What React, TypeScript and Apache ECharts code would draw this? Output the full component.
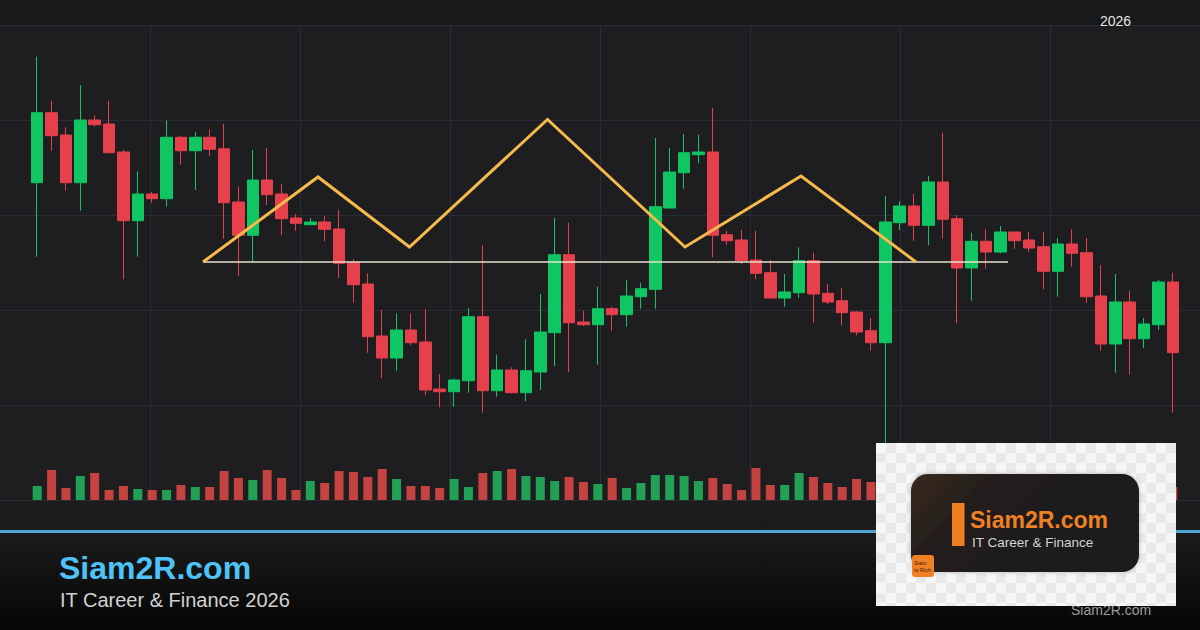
import React, { useEffect, useRef } from "react";
import * as echarts from "echarts";

// ---- data (price scale 0..475, volume scale 0..32) ----
const categories = Array.from({ length: 80 }, (_, i) => `D${i + 1}`);

const opens = [
  317.3, 387.3, 365, 317.3, 380, 376, 348, 279.3, 306, 301.3,
  362.7, 349.3, 362.7, 351.3, 298, 264.7, 320, 306, 282, 275.3,
  278, 271, 237.3, 216, 164, 142, 170, 158, 111, 108.3,
  119.3, 183.3, 109.3, 130, 107.3, 128, 167.3, 245.3, 178, 175.3,
  191.3, 185.3, 203.3, 210.7, 292, 327.3, 345.3, 348, 265.3, 260,
  240, 227.3, 202, 207.3, 239.3, 206.7, 199.3, 188, 169.3, 157.3,
  277.3, 294, 274.7, 318, 281.3, 232, 258.7, 248, 268, 260,
  253.3, 228.7, 256, 247.3, 204, 156, 198, 161.3, 175.3, 218,
];
const closes = [
  387.3, 364.3, 317.3, 380, 375.3, 347.3, 279.3, 306, 301.3, 362.7,
  349.3, 362.7, 350.7, 297.3, 264.7, 320, 305.3, 281.3, 276.7, 278,
  270.7, 236.7, 215.3, 163.3, 142, 170, 157.3, 110, 108.3, 120,
  183.3, 109.3, 130, 107.3, 129.3, 168, 245.3, 177.3, 175.3, 191.3,
  185.3, 204, 211.3, 293.3, 328, 347.3, 348, 264.7, 259.3, 239.3,
  226.7, 202, 208, 239.3, 206, 198, 187.3, 168, 157.3, 278,
  294, 274.7, 318, 280.7, 232, 258.7, 248, 268, 259.3, 252,
  228.7, 256, 246.7, 203.3, 156, 198, 161.3, 176, 218, 147.3,
];
const lows = [
  243.3, 349.3, 309.3, 289.3, 373.3, 347.3, 220.7, 243.3, 297.3, 293.3,
  335.3, 310, 344, 261.3, 224, 238, 295, 264.7, 269.3, 275.3,
  258.7, 222, 197.3, 147.3, 122, 129.3, 154.7, 104.7, 92.7, 93.3,
  107.3, 87.3, 103.3, 106.7, 98.7, 110, 134, 128, 174, 135.3,
  169.3, 173.3, 191.3, 191.3, 291.3, 311.3, 336.7, 242.7, 255.3, 236,
  220.7, 201.3, 193.3, 202, 177.3, 196, 174.7, 164.7, 149.3, 45,
  270, 259.3, 254.7, 261.3, 176.7, 199.3, 231.3, 246.7, 251.3, 248,
  210.7, 203.3, 233.3, 197.3, 149.3, 127.3, 125.3, 152, 170, 87.3,
];
const highs = [
  443.3, 399.3, 372.7, 415, 384.7, 399.3, 350, 328.7, 308, 379.3,
  364, 368, 370.7, 376, 313.3, 350, 352, 316, 286, 282,
  284, 290, 240.7, 226.7, 190, 186.7, 186.7, 190.7, 126, 121.3,
  192, 254.7, 145.3, 132.7, 160.7, 206, 282, 277.3, 189.3, 213.3,
  193.3, 220, 217.3, 362, 352, 366, 365.3, 392, 269.3, 270,
  269.3, 240, 226, 252.7, 247.3, 216, 212, 188.7, 182, 304,
  298.7, 306, 324, 367.3, 284.7, 267.3, 270.7, 274, 268, 268,
  268, 262, 270.7, 262, 234.7, 226, 209.3, 182, 220, 227.3,
];
const volumes = [
  14, 30, 12, 24, 27, 10, 14, 11, 10, 10,
  15, 13, 13, 29, 22, 20, 30, 22, 10, 19,
  17, 29, 28, 23, 31, 21, 14, 14, 12, 21,
  13, 27, 29, 31, 24, 23, 19, 23, 18, 16,
  22, 12, 17, 25, 25, 24, 19, 22, 16, 10,
  32, 15, 15, 27, 23, 17, 13, 21, 18, 30,
  16, 14, 20, 26, 22, 15, 12, 14, 10, 11,
  18, 16, 12, 21, 24, 19, 22, 12, 17, 13,
];

// head-and-shoulders style pattern drawn on the full-width overlay scale (0..1200)
const patternX = [203, 318, 409.5, 547.5, 685, 801, 916];
const patternY = [238, 323, 253, 380.5, 253, 324, 238];
const necklineX = [203, 1008];
const necklineY = [238, 238];

const UP = "#0fc662";
const DOWN = "#e5404b";
const UP_VOL = "#21a056";
const DOWN_VOL = "#c4423f";

export default function App() {
  const ref = useRef<HTMLDivElement>(null);

  useEffect(() => {
    document.body.style.margin = "0";
    const chart = echarts.init(ref.current!, null, { renderer: "svg" });

    const candleData = categories.map((_, i) => [opens[i], closes[i], lows[i], highs[i]]);
    const volData = volumes.map((v, i) => ({
      value: v,
      itemStyle: { color: closes[i] >= opens[i] ? UP_VOL : DOWN_VOL },
    }));

    // decorative checker for the logo card
    const checker: any[] = [];
    const cx0 = 876, cy0 = 443, cw = 300, ch = 163, cell = 10;
    for (let r = 0; r * cell < ch; r++) {
      for (let c = 0; c * cell < cw; c++) {
        if ((r + c) % 2 === 0) continue;
        checker.push({
          type: "rect",
          shape: { x: cx0 + c * cell, y: cy0 + r * cell, width: Math.min(cell, cw - c * cell), height: Math.min(cell, ch - r * cell) },
          style: { fill: "#e9e9e9" },
          z: 101,
          silent: true,
        });
      }
    }

    const hiddenAxis = { show: false };

    chart.setOption({
      animation: false,
      backgroundColor: "#1e1e20",
      grid: [
        { left: 0, top: 25, width: 1200, height: 475 },
        { left: 30, top: 25, width: 1150, height: 475 },
        { left: 30, top: 468, width: 1150, height: 32 },
      ],
      xAxis: [
        {
          type: "value", gridIndex: 0, min: 0, max: 1200, interval: 150,
          axisLine: { show: false }, axisTick: { show: false }, axisLabel: { show: false },
          splitLine: { show: true, showMinLine: false, showMaxLine: false, lineStyle: { color: "#2a2d37", width: 1 } },
        },
        { type: "category", gridIndex: 1, data: categories, ...hiddenAxis },
        { type: "category", gridIndex: 2, data: categories, ...hiddenAxis },
      ],
      yAxis: [
        {
          type: "value", gridIndex: 0, min: 0, max: 475, interval: 95,
          axisLine: { show: false }, axisTick: { show: false }, axisLabel: { show: false },
          splitLine: { show: true, lineStyle: { color: "#2a2d37", width: 1 } },
        },
        { type: "value", gridIndex: 1, min: 0, max: 475, ...hiddenAxis },
        { type: "value", gridIndex: 2, min: 0, max: 32, ...hiddenAxis },
      ],
      series: [
        {
          type: "bar",
          xAxisIndex: 2,
          yAxisIndex: 2,
          data: volData,
          barWidth: 9,
          z: 2,
        },
        {
          type: "candlestick",
          xAxisIndex: 1,
          yAxisIndex: 1,
          data: candleData,
          barWidth: 12,
          itemStyle: {
            color: UP,
            color0: DOWN,
            borderColor: UP,
            borderColor0: DOWN,
            borderWidth: 1,
          },
          z: 3,
        },
        {
          type: "line",
          xAxisIndex: 0,
          yAxisIndex: 0,
          data: necklineX.map((x, i) => [x, necklineY[i]]),
          symbol: "none",
          lineStyle: { color: "#e8e1cd", width: 1.5 },
          z: 4,
        },
        {
          type: "line",
          xAxisIndex: 0,
          yAxisIndex: 0,
          data: patternX.map((x, i) => [x, patternY[i]]),
          symbol: "none",
          lineStyle: { color: "#f6b94c", width: 3, join: "miter" },
          z: 5,
        },
      ],
      graphic: {
        elements: [
          { type: "rect", shape: { x: 0, y: 0, width: 1200, height: 25 }, style: { fill: "#18191b" }, z: -10, silent: true },
          {
            type: "rect", shape: { x: 0, y: 500, width: 1200, height: 130 },
            style: {
              fill: new echarts.graphic.LinearGradient(0, 0, 0, 1, [
                { offset: 0, color: "#1c1c1c" },
                { offset: 0.25, color: "#1b1b1b" },
                { offset: 1, color: "#060606" },
              ]),
            },
            z: -10, silent: true,
          },
          { type: "rect", shape: { x: 0, y: 530, width: 1200, height: 3 }, style: { fill: "#4aa5d1" }, z: 10, silent: true },
          {
            type: "text", x: 1100, y: 20.5,
            style: { text: "2026", fill: "#e6e6e6", font: "14px 'Liberation Sans', Arial, sans-serif", verticalAlign: "middle", align: "left" },
            z: 10,
          },
          {
            type: "text", x: 59, y: 568,
            style: { text: "Siam2R.com", fill: "#4fc3f7", font: "bold 32px 'Liberation Sans', Arial, sans-serif", verticalAlign: "middle", align: "left" },
            z: 10,
          },
          {
            type: "text", x: 60, y: 599.5,
            style: { text: "IT Career & Finance 2026", fill: "#d2d2d2", font: "20px 'Liberation Sans', Arial, sans-serif", verticalAlign: "middle", align: "left" },
            z: 10,
          },
          {
            type: "text", x: 1071, y: 610,
            style: { text: "Siam2R.com", fill: "#9c9c9c", font: "14px 'Liberation Sans', Arial, sans-serif", verticalAlign: "middle", align: "left" },
            z: 99,
          },
          // logo card
          { type: "rect", shape: { x: 876, y: 443, width: 300, height: 163 }, style: { fill: "#f6f6f6" }, z: 100, silent: true },
          ...checker,
          {
            type: "rect", shape: { x: 911, y: 474, width: 228, height: 98, r: 17 },
            style: {
              fill: new echarts.graphic.LinearGradient(0, 0, 1, 0.4, [
                { offset: 0, color: "#3a2a21" },
                { offset: 0.35, color: "#221d1b" },
                { offset: 1, color: "#1a1a1a" },
              ]),
              shadowBlur: 4, shadowColor: "rgba(0,0,0,0.25)",
            },
            z: 102, silent: true,
          },
          { type: "rect", shape: { x: 952, y: 503, width: 12.5, height: 43 }, style: { fill: "#f07f22" }, z: 103, silent: true },
          {
            type: "text", x: 970, y: 520,
            style: { text: "Siam2R.com", fill: "#f08024", font: "bold 23px 'Liberation Sans', Arial, sans-serif", lineHeight: 23, verticalAlign: "middle", align: "left" },
            z: 103,
          },
          {
            type: "text", x: 972, y: 542.5,
            style: { text: "IT Career & Finance", fill: "#d4d4d4", font: "13.5px 'Liberation Sans', Arial, sans-serif", lineHeight: 14, verticalAlign: "middle", align: "left" },
            z: 103,
          },
          { type: "rect", shape: { x: 912, y: 555, width: 22, height: 22, r: 3 }, style: { fill: "#f08024" }, z: 104, silent: true },
          {
            type: "text", x: 914, y: 563,
            style: { text: "Siam", fill: "#3b1c05", font: "5.5px 'Liberation Sans', sans-serif", lineHeight: 6, verticalAlign: "middle", align: "left" },
            z: 105,
          },
          {
            type: "text", x: 914, y: 570,
            style: { text: "to Rich", fill: "#3b1c05", font: "5.5px 'Liberation Sans', sans-serif", lineHeight: 6, verticalAlign: "middle", align: "left" },
            z: 105,
          },
        ],
      },
    });

    return () => chart.dispose();
  }, []);

  return (
    <div
      ref={ref}
      style={{ position: "absolute", left: 0, top: 0, width: 1200, height: 630 }}
    />
  );
}
